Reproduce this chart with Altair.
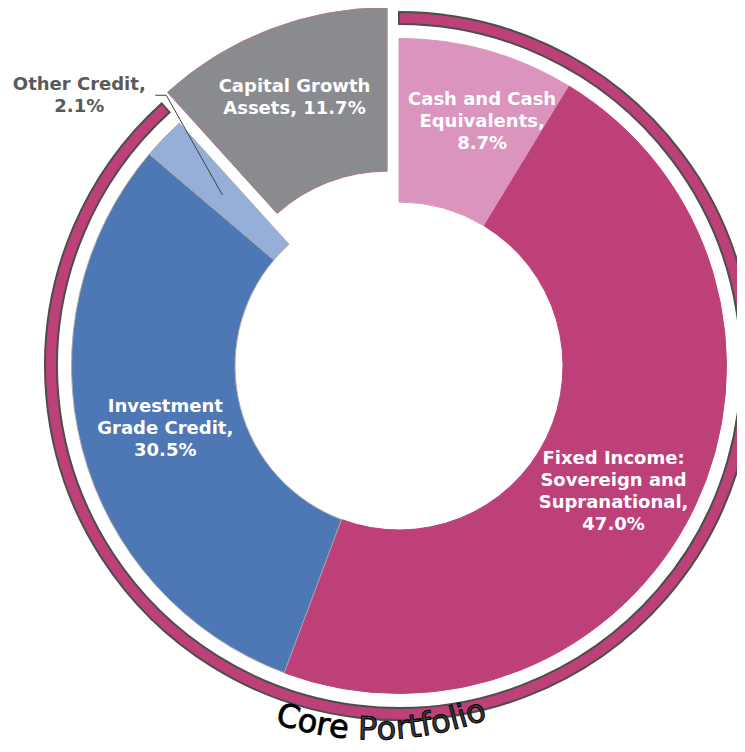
import math
import altair as alt
import pandas as pd

# ---------------- data ----------------
names = [
    "Cash and Cash\nEquivalents",
    "Fixed Income:\nSovereign and\nSupranational",
    "Investment\nGrade Credit",
    "Other Credit",
    "Capital Growth\nAssets",
]
values = [8.7, 47.0, 30.5, 2.1, 11.7]
core = [True, True, True, True, False]
value_sep = [",\n", ",\n", ",\n", ",\n", ", "]
ring_title = "Core Portfolio"

# ---------------- styles / layout ----------------
fills = ["#DA94BE", "#BE4079", "#4E77B6", "#96AFD9", "#898B8E"]
strokes = ["#DA94BE", "#BE4079", "#ABABAB", "#ABABAB", "#B07A90"]
MAGENTA = "#BE4079"
W, H = 729, 736
CX, CY = 391, 358
R_IN, R_OUT = 164, 327.5
RING_IN, RING_OUT = 342, 354
EXPLODE = 33
LABEL_NUDGE = [0.87, 1.27, -0.12, 0.0, -0.07]   # pct of turn
LABEL_R = [258, 249, 242, 0, 255]
LH = 22
FONT = "DejaVu Sans"

df = pd.DataFrame({"cat": names, "value": values, "core": core})
df["end"] = df["value"].cumsum()
df["start"] = df["end"] - df["value"]
df["mid"] = (df["start"] + df["end"]) / 2
df["label"] = [n + s + f"{v:.1f}%" for n, s, v in zip(names, value_sep, values)]

TS = alt.Scale(domain=[0, 100], range=[0, 2 * math.pi])
fill_scale = alt.Scale(domain=names, range=fills)
stroke_scale = alt.Scale(domain=names, range=strokes)


def polar(pct, r, cx=CX, cy=CY):
    a = pct / 100 * 2 * math.pi
    return cx + r * math.sin(a), cy - r * math.cos(a)


cap_mid = float(df.loc[~df["core"], "mid"].iloc[0])
ex_x, ex_y = polar(cap_mid, EXPLODE)

# label anchors (first line), centred as a block on the slice
lx, ly = [], []
for i, row in df.iterrows():
    cx, cy = (CX, CY) if row["core"] else (ex_x, ex_y)
    x, y = polar(row["mid"] + LABEL_NUDGE[i], LABEL_R[i], cx, cy)
    n = row["label"].count("\n") + 1
    lx.append(x)
    ly.append(y - (n - 1) * LH / 2)
df["lx"] = lx
df["ly"] = ly

base = alt.Chart(df)

arc_enc = dict(
    theta=alt.Theta("start:Q", scale=TS, stack=None),
    theta2="end:Q",
    fill=alt.Fill("cat:N", scale=fill_scale, legend=None),
    stroke=alt.Stroke("cat:N", scale=stroke_scale, legend=None),
)

arcs = base.transform_filter("datum.core").mark_arc(
    innerRadius=R_IN, outerRadius=R_OUT, strokeWidth=1
).encode(x=alt.value(CX), y=alt.value(CY), **arc_enc)

explode = base.transform_filter("!datum.core").mark_arc(
    innerRadius=R_IN, outerRadius=R_OUT, strokeWidth=1
).encode(x=alt.value(ex_x), y=alt.value(ex_y), **arc_enc)

# outer "core portfolio" ring
ring_df = pd.DataFrame({"start": [0.0], "end": [float(df.loc[df["core"], "value"].sum())]})
ring = alt.Chart(ring_df).mark_arc(
    innerRadius=RING_IN, outerRadius=RING_OUT, fill=MAGENTA, stroke="#4D4D4D", strokeWidth=2
).encode(
    theta=alt.Theta("start:Q", scale=TS, stack=None),
    theta2="end:Q",
    x=alt.value(CX), y=alt.value(CY),
)

labels_in = base.transform_filter("datum.value >= 5").mark_text(
    font=FONT, fontSize=18, fontWeight="bold", color="white",
    lineBreak="\n", lineHeight=LH, align="center", baseline="middle"
).encode(x=alt.X("lx:Q", scale=None), y=alt.Y("ly:Q", scale=None), text="label:N")

# small slice: leader line + outside label
o = df[df["value"] < 5].iloc[0]
p_end = polar(o["mid"], 246)
p_elb = polar(o["mid"] + 1.45, 357)
p_left = (p_elb[0] - 11, p_elb[1])
leader_df = pd.DataFrame({"i": [0, 1, 2],
                          "px": [p_end[0], p_elb[0], p_left[0]],
                          "py": [p_end[1], p_elb[1], p_left[1]]})
leader = alt.Chart(leader_df).mark_line(color="#404040", strokeWidth=1).encode(
    x=alt.X("px:Q", scale=None), y=alt.Y("py:Q", scale=None), order="i:O")
n_o = o["label"].count("\n") + 1
olab_df = pd.DataFrame({"label": [o["label"]], "px": [p_left[0] - 76],
                        "py": [p_left[1] + 1 - (n_o - 1) * LH / 2]})
other_label = alt.Chart(olab_df).mark_text(
    font=FONT, fontSize=18, fontWeight="bold", color="#595959",
    lineBreak="\n", lineHeight=LH, align="center", baseline="middle"
).encode(x=alt.X("px:Q", scale=None), y=alt.Y("py:Q", scale=None), text="label:N")

# curved ring title, one glyph per row along an arc
ADV = {"C": 0.698, "o": 0.612, "r": 0.411, "e": 0.615, " ": 0.318, "P": 0.603,
       "t": 0.392, "f": 0.352, "l": 0.278, "i": 0.278}
FS = 32
TCX, TCY, TR = 367, 411.5, 320
T_MID_DEG = 178.8
adv = [ADV.get(c, 0.6) * FS for c in ring_title]
total = sum(adv)
rows = []
s = 0.0
word = 0
for c, a in zip(ring_title, adv):
    sc = s + a / 2
    s += a
    if c == " ":
        word += 1
        continue
    deg = T_MID_DEG + (total / 2 - sc) / TR * 180 / math.pi
    rows.append({"ch": c, "tp": deg / 3.6, "rot": (deg - 180) % 360, "word": word})
title_df = pd.DataFrame(rows)
t_enc = dict(
    theta=alt.Theta("tp:Q", scale=TS, stack=None),
    angle=alt.Angle("rot:Q", scale=None),
    text="ch:N",
    x=alt.value(TCX), y=alt.value(TCY), radius=alt.value(TR),
)
title_a = alt.Chart(title_df).transform_filter("datum.word == 0").mark_text(
    font=FONT, fontSize=FS, fill="#000000", stroke="#000000", strokeWidth=0.8,
    align="center", baseline="alphabetic").encode(**t_enc)
title_b = alt.Chart(title_df).transform_filter("datum.word == 1").mark_text(
    font=FONT, fontSize=FS, fill="#3A3A3A", stroke="#000000", strokeWidth=1,
    align="center", baseline="alphabetic").encode(**t_enc)

chart = alt.layer(
    ring, arcs, explode, labels_in, leader, other_label, title_a, title_b
).properties(
    width=W, height=H, padding=0, autosize=alt.AutoSizeParams(type="none")
).configure_view(stroke=None)

chart.save("out.html", embed_options={"renderer": "svg", "actions": False})
